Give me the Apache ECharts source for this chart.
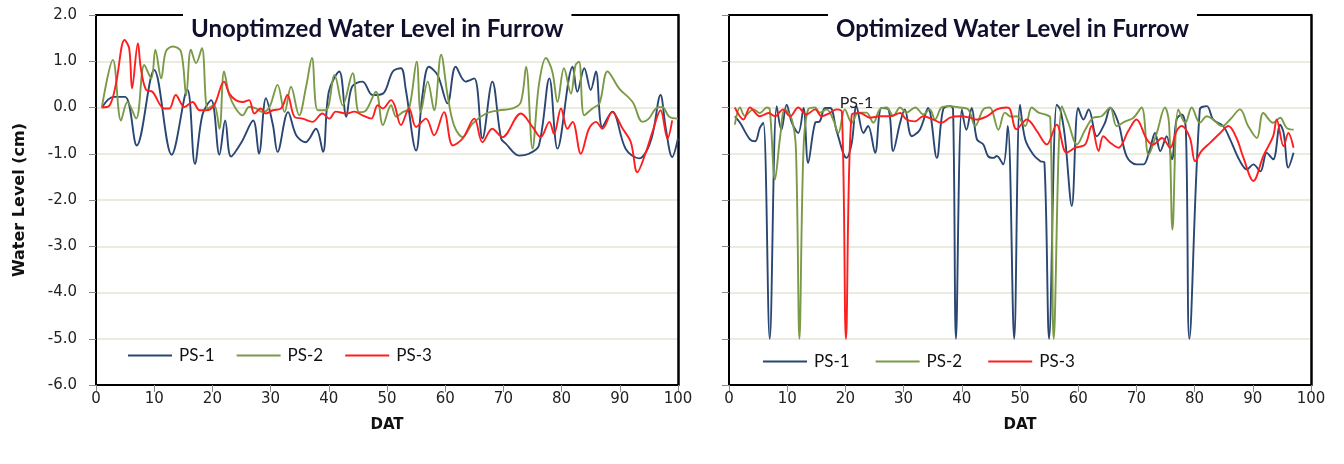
<!DOCTYPE html>
<html>
<head>
<meta charset="utf-8">
<script src="https://cdn.jsdelivr.net/npm/echarts@6/dist/echarts.min.js"></script>
<style>html,body{margin:0;padding:0;background:#fff}#c{width:1344px;height:464px}</style>
</head>
<body>
<div id="c"></div>
<script>
// ---- data (day, water level cm) ----
const titles = ['Unoptimzed Water Level in Furrow', 'Optimized Water Level in Furrow'];
const seriesNames = ['PS-1', 'PS-2', 'PS-3'];
const yTicks = [-6, -5, -4, -3, -2, -1, 0, 1, 2];

const unoptPS1 = [[1,0],[3,0.23],[5,0.23],[7,-0.82],[10,0.81],[13,-1.02],[15.7,0.39],[17,-1.22],[18.3,-0.15],[19.8,0.16],[21.2,-1.02],[22.2,-0.28],[23.2,-1.06],[25,-0.75],[27,-0.28],[28,-1.0],[29.2,0.2],[30.4,-0.38],[31.2,-0.96],[33,-0.1],[34.4,-0.6],[36,-0.75],[37.8,-0.46],[39,-0.96],[40,0.34],[41.8,0.78],[43,-0.2],[44,0.45],[45.8,0.56],[47.5,0.27],[49.3,0.3],[51,0.78],[52.4,0.85],[53.2,0.41],[55,-0.93],[56.1,0.27],[57.2,0.88],[58.7,0.7],[60.4,0.09],[61.8,0.88],[63.5,0.56],[65,0.63],[66.4,-0.67],[68.1,0.56],[69.6,-0.67],[70.4,-0.78],[72.7,-1.04],[74.4,-1.0],[76.1,-0.82],[77.9,0.63],[79.3,-0.89],[81.9,0.88],[82.7,0.34],[83.9,0.85],[85,0.38],[85.9,0.78],[87,-0.42],[88.7,-0.09],[91,-0.89],[93.3,-1.1],[94.5,-0.96],[95.6,-0.6],[97,0.27],[97.9,-0.45],[99,-1.07],[100,-0.67]];
const unoptPS2 = [[1,0],[2.9,1.03],[4.3,-0.28],[5.4,0.12],[6.9,-0.24],[8.3,0.92],[9.5,0.63],[10.2,1.25],[11.2,0.63],[12,1.21],[13.2,1.32],[14.6,1.21],[15.5,0.27],[16.3,1.25],[17.2,0.96],[18.2,1.28],[19.2,-0.02],[20.3,0.05],[21.2,-0.46],[22,0.78],[22.9,0.27],[24,-0.02],[25.2,-0.17],[26.3,0.01],[27.5,-0.02],[28.6,-0.1],[29.8,0.01],[31.2,0.49],[32.4,-0.1],[33.5,0.45],[34.9,-0.17],[36.1,0.45],[37.1,1.07],[38.1,-0.06],[39.5,-0.06],[41,0.7],[42.4,0.05],[44.1,0.74],[45.2,-0.1],[46.4,-0.06],[48.1,0.34],[49.3,-0.38],[50.7,0.05],[51.6,-0.2],[52.7,-0.1],[53.8,-0.02],[55.1,0.99],[55.8,-0.1],[57,0.56],[58.1,-0.06],[59.3,1.14],[60.4,0.27],[61.5,-0.38],[63,-0.64],[64.7,-0.35],[67,-0.13],[69.3,-0.06],[71.6,-0.02],[73,0.12],[73.9,0.88],[75,-0.89],[76.1,0.49],[77.3,1.07],[78.4,0.78],[79.3,0.12],[80.4,0.85],[81.6,0.3],[82.4,0.92],[83,0.99],[83.9,-0.17],[85.3,-0.02],[86.5,0.09],[87.9,0.78],[89.9,0.41],[92.2,0.12],[93.9,-0.31],[95,-0.24],[96.2,-0.02],[97.3,0.01],[98.5,-0.2],[100,-0.24]];
const unoptPS3 = [[1,0],[2.3,0.04],[3.4,0.49],[4.9,1.46],[5.7,1.28],[6.2,0.41],[7.2,1.39],[7.7,0.85],[8.6,0.38],[9.7,0.34],[11.7,-0.02],[12.6,-0.02],[13.7,0.27],[15.2,0.01],[16.6,0.12],[17.8,-0.06],[18.9,-0.06],[20.3,0.05],[22,0.56],[22.9,0.3],[24,0.16],[25.2,0.12],[26.3,0.16],[27.2,-0.13],[28.3,-0.02],[29.2,-0.13],[30.4,-0.06],[31.8,-0.02],[32.9,0.27],[34.1,-0.2],[35.5,-0.24],[37.2,-0.31],[38.9,-0.13],[40.1,-0.24],[41.2,-0.09],[43,-0.13],[44.4,-0.09],[45.8,-0.17],[47.3,-0.24],[48.4,0.05],[49.3,-0.02],[50.7,0.16],[51.3,0.05],[52.4,-0.38],[53.8,-0.02],[55,-0.42],[56.7,-0.24],[58.1,-0.6],[59.8,-0.1],[61.3,-0.82],[63,-0.67],[65,-0.24],[66.4,-0.75],[68.1,-0.46],[69.8,-0.64],[73,-0.13],[75,-0.42],[76.4,-0.64],[77.9,-0.31],[78.7,-0.57],[79.9,-0.02],[81,-0.46],[81.9,-0.31],[83.3,-1.0],[84.7,-0.46],[85.9,-0.31],[87,-0.46],[88.7,-0.1],[90.5,-0.46],[91.9,-0.75],[93,-1.4],[94.5,-0.96],[95.6,-0.53],[97,-0.06],[98.2,-0.67],[99,-0.28]];

const optPS1 = [[1,-0.19],[1.9,-0.33],[3.6,-0.69],[4.5,-0.73],[5.3,-0.44],[5.9,-0.33],[7,-5],[8.2,0.03],[9,-0.48],[9.9,0.06],[10.8,-0.33],[11.9,-0.55],[12.8,-0.01],[13.6,-1.2],[14.8,-0.33],[15.6,-0.3],[16.5,-0.01],[17.4,-0.01],[18.5,-0.51],[20.2,-1.09],[21.1,-0.76],[21.9,0.03],[23.1,-0.55],[23.9,-0.4],[25.1,-0.98],[26.2,-0.01],[27.4,-0.04],[28.2,-0.94],[29.4,-0.33],[30.2,-0.04],[31.4,-0.62],[32.8,-0.48],[34.2,-0.01],[35.7,-1.09],[36.8,-0.04],[38,0.03],[38.5,-0.04],[39,-5],[40,-0.04],[40.8,-0.48],[41.7,-0.01],[42.6,-0.69],[43.7,-0.8],[44.5,-1.05],[45.4,-1.09],[46,-1.05],[47.1,-1.23],[47.9,-0.4],[49,-5],[50,0.06],[50.9,-0.69],[52.3,-1.02],[53.5,-1.16],[54.2,-1.19],[55,-5],[56.3,0.06],[56.9,-0.04],[57.7,-0.62],[58.9,-2.13],[60,-0.01],[60.9,-0.26],[61.8,-0.04],[63.2,-0.62],[64.6,-0.33],[65.5,-0.01],[66.9,-0.33],[68.3,-1.05],[70,-1.23],[71.2,-1.23],[72.3,-0.91],[73.2,-0.55],[74.1,-0.94],[75.2,-0.62],[76.1,-1.12],[76.9,-0.26],[77.8,-0.15],[78.5,-0.48],[79.1,-5],[80.9,-0.04],[82.1,0.03],[83.2,-0.26],[84.9,-0.4],[86.1,-0.69],[87.8,-1.16],[89,-1.34],[90.1,-1.23],[91.3,-1.38],[92.4,-0.98],[93.5,-1.12],[94.7,-0.37],[95.3,-0.55],[96.1,-1.3],[97,-0.98]];
const optPS2 = [[1,-0.37],[1.9,0],[2.7,-0.18],[4.2,-0.04],[5.3,-0.12],[6.5,0],[7,-0.04],[7.9,-1.56],[8.8,-0.62],[9.6,-0.04],[10.8,-0.26],[11.5,-0.9],[12.1,-5],[12.8,-0.9],[13.6,-0.04],[14.8,0],[15.6,-0.11],[16.8,-0.04],[17.9,-0.26],[18.8,-0.55],[19.9,-0.04],[21.1,-0.33],[22.2,-0.11],[23.6,-0.11],[24.8,-0.33],[25.9,-0.04],[27.1,0],[28.2,-0.18],[29.4,0],[30.5,-0.11],[32,0],[33.4,-0.15],[34.5,-0.04],[35.4,-0.26],[36.5,0],[37.7,0.03],[39.7,0],[41.1,-0.04],[42.3,-0.4],[43.7,-0.04],[44.8,0],[46.3,-0.48],[47.4,-0.11],[48.5,-0.2],[49.4,-0.19],[50.9,-0.4],[52,0],[53.2,-0.11],[54.3,-0.15],[55.2,-0.22],[55.8,-5],[57.2,0.03],[58.3,-0.33],[59.8,-0.8],[61.2,-0.48],[62.6,-0.22],[64,-0.19],[65.5,0],[66.6,-0.4],[68.1,-0.3],[69.5,-0.22],[70.9,0],[72.1,-1.02],[73.5,-0.55],[74.9,0],[75.6,-0.33],[76.2,-2.64],[77.2,-0.04],[78.4,-0.33],[79.5,0],[80.9,-0.33],[82.1,-0.19],[83.2,-0.26],[84.7,-0.4],[86.1,-0.26],[87.8,-0.04],[89.2,-0.4],[90.7,-0.66],[91.8,-0.12],[93.5,-0.33],[94.7,-0.22],[95.8,-0.44],[97,-0.48]];
const optPS3 = [[1,0],[2.5,-0.26],[3.6,0],[5.3,-0.19],[6.8,-0.12],[7.9,-0.19],[9.3,-0.04],[10.5,-0.19],[11.9,0],[13.3,-0.15],[14.8,-0.04],[15.9,-0.19],[17.3,-0.12],[18.5,-0.04],[19.4,-0.1],[20.1,-5],[21.1,-0.15],[22.5,-0.12],[24.2,-0.22],[25.9,-0.19],[27.7,-0.19],[29.4,-0.12],[30.5,-0.26],[31.9,-0.3],[33.4,-0.19],[35.1,-0.26],[36.5,-0.33],[38,-0.22],[39.7,-0.19],[41.4,-0.22],[42.5,-0.26],[44.3,-0.19],[46,-0.04],[47.7,0],[48.3,-0.04],[49.4,-0.47],[51.2,-0.26],[52.9,-0.51],[54.6,-0.8],[56.3,-0.37],[58,-0.98],[59.5,-0.87],[61.2,-0.8],[62.3,-0.4],[63.5,-0.94],[64.3,-0.62],[65.5,-0.76],[66.9,-0.87],[68.6,-0.51],[70,-0.26],[71.8,-0.69],[72.9,-0.8],[74.4,-0.66],[75.8,-0.87],[76.9,-0.51],[77.8,-0.4],[79.2,-0.66],[80.1,-1.16],[81.2,-0.94],[82.7,-0.76],[84.4,-0.55],[85.8,-0.4],[87.2,-0.66],[88.4,-1.09],[90.1,-1.59],[91.8,-1.05],[93.5,-0.62],[94.1,-0.26],[95.3,-0.84],[96.1,-0.55],[97,-0.87]];
const strayLabel = {text: 'PS-1', day: 21.9, level: 0.1};

// ---- styling ----
const colors = ['#2A4672', '#7B9A48', '#FF1E1E'];
const gridLine = '#E6E4D6';
const tickFont = 'DejaVu Sans';
const calibriLike = 'Lato';

const chart = echarts.init(document.getElementById('c'), null, {renderer: 'canvas'});

function xAxis(i) {
  return {
    type: 'value', gridIndex: i, min: 0, max: 100, interval: 10,
    name: 'DAT', nameLocation: 'middle', nameGap: 33,
    nameTextStyle: {fontFamily: tickFont, fontWeight: 'bold', fontSize: 15, color: '#111'},
    axisLine: {show: true, onZero: false, lineStyle: {color: '#000', width: 2}},
    axisTick: {show: true, length: 7, lineStyle: {color: '#8a8a8a', width: 1}},
    axisLabel: {fontFamily: tickFont, fontSize: 15, color: '#222', margin: 7},
    splitLine: {show: false}
  };
}
function yAxis(i) {
  return {
    type: 'value', gridIndex: i, min: -6, max: 2, interval: 1,
    name: i === 0 ? 'Water Level (cm)' : '', nameLocation: 'middle', nameRotate: 90, nameGap: 68,
    nameTextStyle: {fontFamily: tickFont, fontWeight: 'bold', fontSize: 16, color: '#111'},
    axisLine: {show: true, onZero: false, lineStyle: {color: '#000', width: 2}},
    axisTick: {show: true, length: 7, lineStyle: {color: '#8a8a8a', width: 1}},
    axisLabel: {show: i === 0, fontFamily: tickFont, fontSize: 15, color: '#222', margin: 19,
      formatter: v => yTicks.indexOf(v) >= 0 ? v.toFixed(1) : ''},
    splitLine: {show: true, lineStyle: {color: gridLine, width: 1.5}}
  };
}
function frameX(i) {
  return {type: 'value', gridIndex: i, min: 0, max: 100, position: 'top',
    axisLine: {show: true, onZero: false, lineStyle: {color: '#000', width: 2}},
    axisTick: {show: false}, axisLabel: {show: false}, splitLine: {show: false}};
}
function frameY(i) {
  return {type: 'value', gridIndex: i, min: -6, max: 2, position: 'right',
    axisLine: {show: true, onZero: false, lineStyle: {color: '#000', width: 2.5}},
    axisTick: {show: false}, axisLabel: {show: false}, splitLine: {show: false}};
}
function lineSeries(name, data, i, c, extra) {
  return Object.assign({
    name: name, type: 'line', xAxisIndex: i, yAxisIndex: i, data: data,
    smooth: 0.35, symbol: 'none', showSymbol: false,
    lineStyle: {color: c, width: 1.9}, itemStyle: {color: c},
    emphasis: {disabled: true}, animation: false
  }, extra || {});
}

const option = {
  backgroundColor: '#fff',
  animation: false,
  grid: [
    {left: 96, right: 1344 - 678, top: 15, bottom: 464 - 385},
    {left: 729, right: 1344 - 1311, top: 15, bottom: 464 - 385}
  ],
  title: [
    {text: titles[0], left: 183, top: 9, padding: [8, 8, 4, 8], backgroundColor: '#fff', z: 10,
     textStyle: {fontFamily: calibriLike, fontWeight: 'bold', fontSize: 24, color: '#10102e'}},
    {text: titles[1], left: 828, top: 9, padding: [8, 8, 4, 8], backgroundColor: '#fff', z: 10,
     textStyle: {fontFamily: calibriLike, fontWeight: 'bold', fontSize: 24, color: '#10102e'}}
  ],
  legend: [
    {left: 128, top: 347, padding: 0, itemWidth: 44, itemHeight: 2, itemGap: 22, icon: 'rect',
     textStyle: {fontFamily: calibriLike, fontSize: 17, color: '#111', padding: [0, 0, 0, 2]},
     data: seriesNames},
    {left: 763, top: 353, padding: 0, itemWidth: 44, itemHeight: 2, itemGap: 26, icon: 'rect',
     textStyle: {fontFamily: calibriLike, fontSize: 17, color: '#111', padding: [0, 0, 0, 2]},
     data: seriesNames}
  ],
  xAxis: [xAxis(0), xAxis(1), frameX(0), frameX(1)],
  yAxis: [yAxis(0), yAxis(1), frameY(0), frameY(1)],
  series: [
    lineSeries(seriesNames[0], unoptPS1, 0, colors[0]),
    lineSeries(seriesNames[1], unoptPS2, 0, colors[1]),
    lineSeries(seriesNames[2], unoptPS3, 0, colors[2]),
    lineSeries(seriesNames[0], optPS1, 1, colors[0], {
      markPoint: {symbol: 'rect', symbolSize: 1, silent: true, itemStyle: {color: 'rgba(0,0,0,0)'},
        data: [{coord: [strayLabel.day, strayLabel.level]}],
        label: {show: true, position: 'inside', formatter: strayLabel.text, fontFamily: calibriLike, fontSize: 16, color: '#222'}}
    }),
    lineSeries(seriesNames[1], optPS2, 1, colors[1]),
    lineSeries(seriesNames[2], optPS3, 1, colors[2])
  ]
};
chart.setOption(option);
</script>
</body>
</html>
